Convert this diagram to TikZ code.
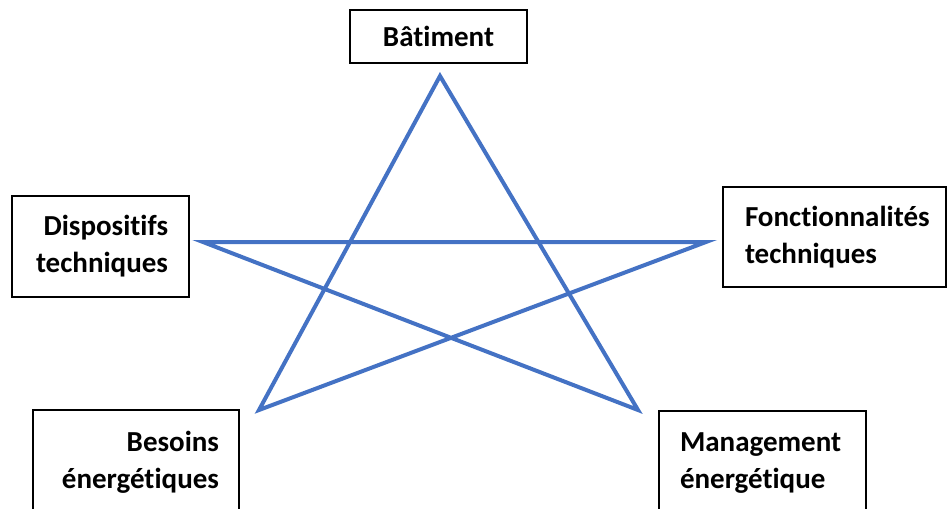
\documentclass[tikz,border=0pt]{standalone}
\usepackage{fontspec}
\setmainfont{Carlito}[Ligatures={NoCommon}]
\definecolor{starblue}{HTML}{4472C4}
\tikzset{
  pole/.style={draw=black, line width=1.5pt, inner ysep=0pt,
    font=\fontsize{21.75}{27.75}\selectfont\bfseries},
  starline/.style={draw=starblue, line width=3pt, line join=miter}
}
\begin{document}
\begin{tikzpicture}[x=0.75pt,y=-0.75pt]
\useasboundingbox (0,0) rectangle (948,508);

\coordinate (top) at (440,76);
\coordinate (left) at (203,242);
\coordinate (right) at (706,242);
\coordinate (lowleft) at (259,410);
\coordinate (lowright) at (638,410);

\draw[starline] (lowleft) -- (top) -- (lowright) -- (left) -- (right) -- cycle;

\node[pole, minimum width=132.75pt, minimum height=39.75pt] (batiment) at (438.5,36.5) {Bâtiment};
\node[pole, text width=101.25pt, inner xsep=15.75pt, minimum height=75.75pt, align=right] (dispositifs) at (100.5,246.5) {Dispositifs\\techniques};
\node[pole, text width=134.25pt, inner xsep=16.5pt, minimum height=75pt, align=left] (fonctions) at (834.5,237) {Fonctionnalités\\techniques};
\node[pole, text width=124.5pt, inner xsep=15pt, minimum height=78pt, align=right] (besoins) at (136,462) {Besoins\\énergétiques};
\node[pole, text width=123.75pt, inner xsep=15.75pt, minimum height=78pt, align=left] (management) at (762.5,463) {Management\\énergétique};
\end{tikzpicture}
\end{document}
